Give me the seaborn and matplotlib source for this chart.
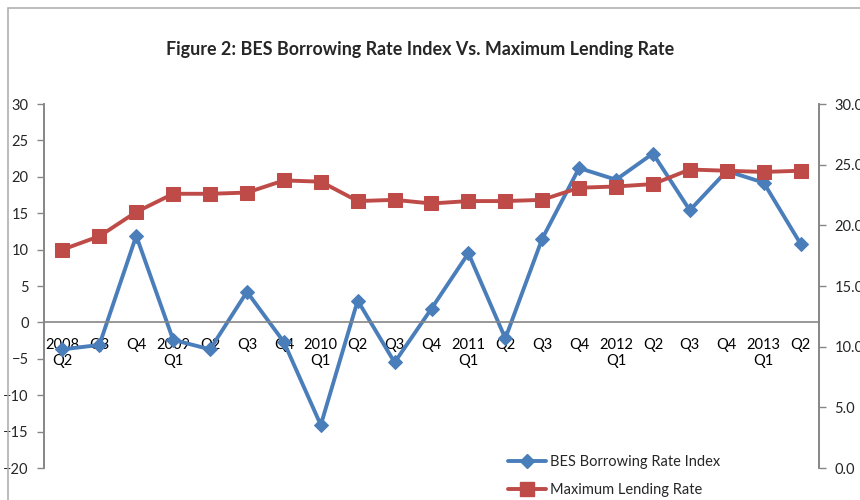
import matplotlib
matplotlib.use("Agg")
import matplotlib.pyplot as plt
from matplotlib.lines import Line2D
from matplotlib.patches import Rectangle
import numpy as np
import pandas as pd
import seaborn as sns

# quarter labels, 2008 Q2 .. 2013 Q2
quarters = ["2008\nQ2", "Q3", "Q4", "2009\nQ1", "Q2", "Q3", "Q4", "2010\nQ1", "Q2", "Q3", "Q4",
            "2011\nQ1", "Q2", "Q3", "Q4", "2012\nQ1", "Q2", "Q3", "Q4", "2013\nQ1", "Q2"]

# BES Borrowing Rate Index (left axis)
bes_index = [-3.7, -3.1, 11.9, -2.4, -3.7, 4.2, -2.7, -14.1, 3.0, -5.5, 1.9,
             9.5, -2.2, 11.5, 21.2, 19.6, 23.2, 15.4, 20.8, 19.2, 10.8]

# Maximum Lending Rate (right axis)
max_lending = [18.0, 19.1, 21.1, 22.6, 22.6, 22.7, 23.7, 23.6, 22.0, 22.1, 21.8,
               22.0, 22.0, 22.1, 23.1, 23.2, 23.4, 24.6, 24.5, 24.4, 24.5]

df = pd.DataFrame({"idx": np.arange(len(quarters)), "bes": bes_index, "mlr": max_lending})

sns.set_style("white")
plt.rcParams["font.family"] = ["Lato", "DejaVu Sans"]

BLUE = "#4A7EBB"
RED = "#BE4B48"
GREY = "#868686"

fig = plt.figure(figsize=(8.6, 5.0), dpi=100)
# chart-area border (runs off the right and bottom edges, as in the source)
fig.patches.append(Rectangle((7.5 / 860, -0.1), 2, 1.1 - 8.5 / 500, transform=fig.transFigure,
                             fill=False, edgecolor="#B0B0B0", linewidth=1.2))

ax = fig.add_axes([44 / 860, 32 / 500, 775 / 860, 364 / 500])
ax2 = ax.twinx()

sns.lineplot(data=df, x="idx", y="bes", ax=ax, color=BLUE, linewidth=2.8,
             marker="D", markersize=7, markeredgecolor=BLUE, legend=False)
sns.lineplot(data=df, x="idx", y="mlr", ax=ax2, color=RED, linewidth=2.8,
             marker="s", markersize=9.5, markeredgecolor=RED, legend=False)

ax.set_xlim(-0.5, len(quarters) - 0.5)
ax.set_ylim(-20, 30)
ax.set_yticks(np.arange(-20, 31, 5))
ax2.set_ylim(0, 30)
ax2.set_yticks(np.arange(0, 31, 5))
ax2.set_yticklabels([f"{v:.1f}" for v in np.arange(0, 31, 5)])

ax.set_xticks(df["idx"])
ax.set_xticklabels(quarters, linespacing=1.85)
ax.set_xticks(np.arange(-0.5, len(quarters), 1), minor=True)
ax.tick_params(axis="x", which="major", length=0, pad=11, labelsize=10.5, colors="black")
ax.tick_params(axis="x", which="minor", length=5, color=GREY, width=1)
ax.tick_params(axis="y", length=5, color=GREY, width=1, labelsize=10.5, pad=6)
ax2.tick_params(axis="y", length=5, color=GREY, width=1, labelsize=10.5, pad=6)

for a in (ax, ax2):
    a.set_xlabel("")
    a.set_ylabel("")
    a.spines["top"].set_visible(False)
    for s in ("left", "right", "bottom"):
        a.spines[s].set_color(GREY)
        a.spines[s].set_linewidth(1.2)
ax.spines["bottom"].set_position(("data", 0))
ax2.spines["bottom"].set_visible(False)
ax.grid(False)
ax2.grid(False)

fig.text(420 / 860, 1 - 49 / 500, "Figure 2: BES Borrowing Rate Index Vs. Maximum Lending Rate",
         ha="center", va="center", fontsize=12.9, fontweight="bold")

handles = [Line2D([], [], color=BLUE, linewidth=2.8, marker="D", markersize=7),
           Line2D([], [], color=RED, linewidth=2.8, marker="s", markersize=9.5)]
fig.legend(handles, ["BES Borrowing Rate Index", "Maximum Lending Rate"],
           loc="center left", bbox_to_anchor=(495 / 860, 1 - 476 / 500), frameon=False,
           fontsize=10.5, handlelength=2.6, handletextpad=0.3, labelspacing=0.95)

fig.savefig("out.png", dpi=100)
